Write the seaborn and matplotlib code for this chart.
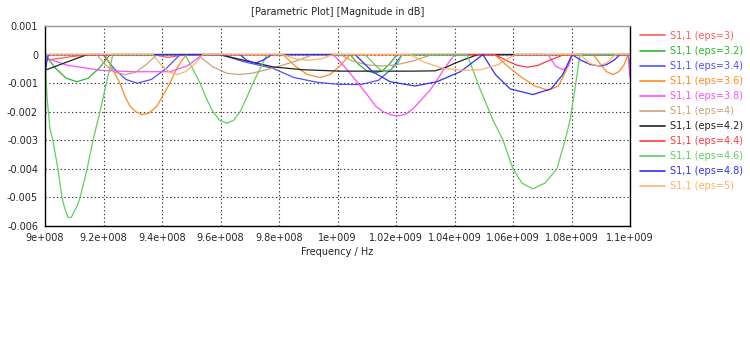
import matplotlib
matplotlib.use("Agg")
import matplotlib.pyplot as plt
import seaborn as sns
import pandas as pd
from matplotlib.ticker import FixedLocator

sns.set_style("white")
plt.rcParams['font.family'] = ['DejaVu Sans']

labels = ["S1,1 (eps=3)", "S1,1 (eps=3.2)", "S1,1 (eps=3.4)", "S1,1 (eps=3.6)",
          "S1,1 (eps=3.8)", "S1,1 (eps=4)", "S1,1 (eps=4.2)", "S1,1 (eps=4.4)",
          "S1,1 (eps=4.6)", "S1,1 (eps=4.8)", "S1,1 (eps=5)"]
colors = ["#ff5a5a", "#2fb52f", "#5050ff", "#ff8a1e", "#ff4dff", "#c8a27c",
          "#222222", "#ff3a3a", "#5fd05f", "#3030f0", "#ffb066"]

# frequency in MHz, magnitude in dB
f_eps30 = [900, 905, 910, 916, 936.9, 942, 948.5, 1099.3, 1100]
m_eps30 = [-0.0002, -0.00013, -0.00006, 0, 0, -0.0001, 0, 0, -0.0006]

f_eps32 = [900, 903.6, 907.3, 910.9, 914.7, 918.5, 922.2, 1004.3, 1007.1, 1010, 1012.8,
           1015.3, 1017.8, 1020.3, 1099.3, 1100]
m_eps32 = [0, -0.00048, -0.00083, -0.00095, -0.00083, -0.00048, 0, 0, -0.00033, -0.00057,
           -0.00065, -0.00057, -0.00033, 0, 0, -0.0003]

f_eps34 = [900, 919.8, 923.7, 927.6, 931.5, 936.4, 941.3, 946.2, 959.8, 968, 977.9, 985,
           993, 1000, 1008, 1014, 1018.5, 1022.1, 1100]
m_eps34 = [0, 0, -0.0005, -0.00087, -0.001, -0.00087, -0.0005, 0, 0, -0.00025, -0.00048,
           -0.0008, -0.00097, -0.00104, -0.00105, -0.0009, -0.0005, 0, 0]

f_eps36 = [900, 920.5, 923, 925.6, 927.5, 929, 931, 933.2, 935.5, 938.3, 940.5, 942.7, 945,
           946.8, 948.5, 981.4, 985.5, 989.7, 994, 997.4, 1000.8, 1004.3, 1053.8, 1058,
           1063, 1067.5, 1072, 1075.5, 1078, 1080.2, 1087.4, 1090, 1092, 1094.2, 1096.2,
           1098, 1099.3, 1100]
m_eps36 = [0, 0, -0.0005, -0.001, -0.0015, -0.0018, -0.002, -0.0021, -0.00205, -0.0018,
           -0.0014, -0.001, -0.0005, -0.0002, 0, 0, -0.0004, -0.0007, -0.0008, -0.0007,
           -0.0004, 0, 0, -0.0004, -0.0008, -0.0011, -0.00125, -0.0011, -0.0006, 0, 0,
           -0.00035, -0.0006, -0.0007, -0.0006, -0.00035, 0, 0]

f_eps38 = [900, 900.7, 907.5, 918.8, 930, 942.7, 948.5, 954, 998.5, 1001.5, 1004.3, 1007,
           1010.1, 1013, 1015.6, 1018, 1020.3, 1023, 1025.8, 1028.5, 1031.6, 1034, 1036.1,
           1038.2, 1040.2, 1072, 1074.5, 1077.1, 1079, 1080.2, 1099.3, 1100]
m_eps38 = [-0.0001, -0.00013, -0.00037, -0.00055, -0.0006, -0.0006, -0.0004, 0, 0,
           -0.00032, -0.00066, -0.001, -0.0014, -0.0018, -0.002, -0.0021, -0.00215, -0.0021,
           -0.0019, -0.0016, -0.00125, -0.0009, -0.00055, -0.00025, 0, 0, -0.0004,
           -0.00053, -0.0004, 0, 0, -0.0008]

f_eps40 = [900, 917.8, 920.5, 924, 927.4, 931, 934.6, 938.3, 952, 957.4, 962, 966, 971,
           976, 981, 986.5, 991.6, 1000.9, 1005, 1010, 1015, 1020, 1026, 1032.3, 1100]
m_eps40 = [0, 0, -0.00035, -0.00062, -0.0007, -0.00062, -0.00035, 0, 0, -0.00043, -0.00065,
           -0.0007, -0.00065, -0.00052, -0.00038, -0.0002, 0, 0, -0.00022, -0.00036,
           -0.0004, -0.00036, -0.00022, 0, 0]

f_eps42 = [900, 907, 914.4, 959.8, 968, 977.9, 988, 1000.9, 1015, 1025, 1033.3, 1037,
           1040.2, 1044, 1048, 1100]
m_eps42 = [-0.00055, -0.00028, 0, 0, -0.0002, -0.00043, -0.00053, -0.00058, -0.00058,
           -0.00058, -0.00057, -0.00045, -0.0003, -0.00015, 0, 0]

f_eps44 = [900, 1053.8, 1058, 1061.5, 1065, 1068.5, 1072, 1077.5, 1100]
m_eps44 = [0, 0, -0.00022, -0.00038, -0.00044, -0.00038, -0.00022, 0, 0]

f_eps46 = [900, 900.7, 901.7, 902.7, 904.4, 905.8, 906.8, 907.9, 909, 909.9, 911, 912,
           914.4, 916.4, 918.8, 921.2, 923.2, 947.9, 950.5, 953, 955, 957.4, 959.7, 962.2,
           964.5, 966.7, 969, 971.1, 973.5, 975.9, 1009.4, 1012.5, 1014.5, 1016.2, 1018.3,
           1020.5, 1022.1, 1044.3, 1048.7, 1053.2, 1056.6, 1060, 1063.1, 1064.9, 1066.8,
           1068.8, 1070.9, 1075, 1077.8, 1079.5, 1081.2, 1082.9, 1100]
m_eps46 = [0, -0.0015, -0.0026, -0.003, -0.004, -0.005, -0.0054, -0.0057, -0.0057, -0.0055,
           -0.0053, -0.005, -0.004, -0.003, -0.002, -0.0009, 0, 0, -0.0005, -0.001, -0.0015,
           -0.002, -0.0023, -0.0024, -0.0023, -0.002, -0.0015, -0.001, -0.0005, 0, 0,
           -0.00033, -0.00052, -0.0006, -0.00052, -0.00033, 0, 0, -0.0012, -0.0023, -0.003,
           -0.004, -0.0045, -0.0046, -0.0047, -0.0046, -0.0045, -0.004, -0.003, -0.0023,
           -0.0012, 0, 0]

f_eps48 = [900, 900.5, 901.2, 966.7, 969, 971.8, 974.5, 977.6, 1006, 1012, 1018, 1026.5,
           1034, 1042, 1049.7, 1054, 1059, 1066.8, 1073, 1077, 1080.2, 1083.3, 1086.5,
           1089.7, 1092, 1094.5, 1096.6, 1100]
m_eps48 = [-0.0007, -0.0003, 0, 0, -0.0002, -0.0003, -0.0002, 0, 0, -0.0006, -0.00095,
           -0.0011, -0.00095, -0.0006, 0, -0.0007, -0.0012, -0.0014, -0.0012, -0.0007, 0,
           -0.0002, -0.00035, -0.0004, -0.00035, -0.0002, 0, 0]

f_eps50 = [900, 936.9, 939.6, 942.3, 945.1, 948, 951, 954, 981.4, 985.7, 990, 994.3, 998.5,
           1024.8, 1030, 1036, 1043, 1049, 1055, 1060.7, 1083, 1086, 1089, 1092, 1095, 1100]
m_eps50 = [0, 0, -0.00035, -0.0006, -0.0007, -0.0006, -0.00035, 0, 0, -0.00015, -0.0002,
           -0.00015, 0, 0, -0.00028, -0.00048, -0.00055, -0.00053, -0.00035, 0, 0, -0.0003,
           -0.0004, -0.0003, 0, 0]

series_f = [f_eps30, f_eps32, f_eps34, f_eps36, f_eps38, f_eps40, f_eps42, f_eps44,
            f_eps46, f_eps48, f_eps50]
series_m = [m_eps30, m_eps32, m_eps34, m_eps36, m_eps38, m_eps40, m_eps42, m_eps44,
            m_eps46, m_eps48, m_eps50]

x_ticks = [9e8, 9.2e8, 9.4e8, 9.6e8, 9.8e8, 1e9, 1.02e9, 1.04e9, 1.06e9, 1.08e9, 1.1e9]
x_ticklabels = ["9e+008", "9.2e+008", "9.4e+008", "9.6e+008", "9.8e+008", "1e+009",
                "1.02e+009", "1.04e+009", "1.06e+009", "1.08e+009", "1.1e+009"]
y_ticks = [0.001, 0, -0.001, -0.002, -0.003, -0.004, -0.005, -0.006]
y_ticklabels = ["0.001", "0", "-0.001", "-0.002", "-0.003", "-0.004", "-0.005", "-0.006"]

rows = []
for lab, fs, ms in zip(labels, series_f, series_m):
    for f, m in zip(fs, ms):
        rows.append({"freq": f * 1e6, "mag": m, "series": lab})
df = pd.DataFrame(rows)

fig = plt.figure(figsize=(7.5, 3.6), dpi=100)
ax = fig.add_axes([45 / 750, 1 - 226 / 360, 585 / 750, 200 / 360])

sns.lineplot(data=df, x="freq", y="mag", hue="series", hue_order=labels,
             palette=dict(zip(labels, colors)), estimator=None, sort=False,
             linewidth=0.9, ax=ax)

ax.set_xlim(9e8, 1.1e9)
ax.set_ylim(-0.006, 0.001)
ax.xaxis.set_major_locator(FixedLocator(x_ticks))
ax.set_xticklabels(x_ticklabels, fontsize=7)
ax.yaxis.set_major_locator(FixedLocator(y_ticks))
ax.set_yticklabels(y_ticklabels, fontsize=7)
ax.tick_params(axis="both", direction="out", length=3, width=0.8, color="black", pad=2)
ax.grid(True, linestyle=(0, (1.2, 2.2)), color="#333333", linewidth=0.8)
for side in ["left", "bottom", "right"]:
    ax.spines[side].set_color("black")
    ax.spines[side].set_linewidth(1.0)
ax.spines["top"].set_color("#999999")
ax.spines["top"].set_linewidth(1.0)
ax.set_xlabel("Frequency / Hz", fontsize=7, labelpad=3)
ax.set_ylabel("")
ax.set_title("[Parametric Plot] [Magnitude in dB]", fontsize=7, pad=8)

leg = ax.legend(loc="upper left", bbox_to_anchor=(1.010, 0.995), frameon=False,
                fontsize=7, handlelength=2.6, handletextpad=0.5, labelspacing=0.52,
                labelcolor="linecolor", borderaxespad=0)
for line in leg.get_lines():
    line.set_linewidth(1.2)

fig.savefig("out.png", dpi=100)
